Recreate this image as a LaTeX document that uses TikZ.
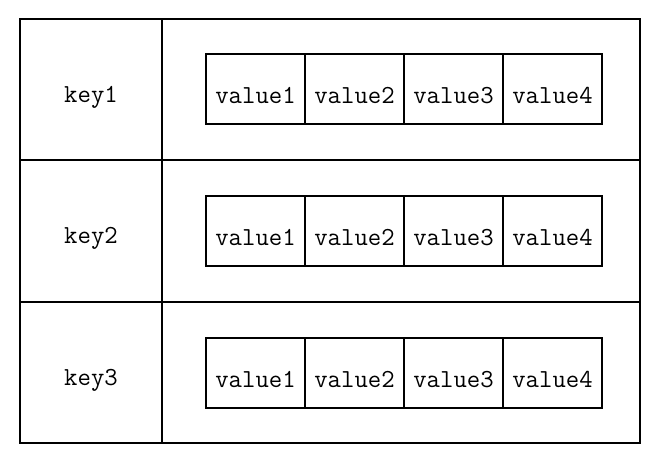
\documentclass[tikz,border=0pt]{standalone}
\begin{document}
\begin{tikzpicture}[x=1pt,y=-1pt,
  cell/.style={draw=black,line width=1.8pt,inner sep=0pt,minimum height=141.5pt,
    font=\fontsize{26}{26}\ttfamily,text height=25pt,text depth=0pt},
  keycell/.style={cell,minimum width=142pt},
  valcell/.style={cell,minimum width=478pt},
  valbox/.style={draw=black,line width=1.8pt,inner sep=0pt,minimum width=99pt,minimum height=70pt,
    font=\fontsize{26}{26}\ttfamily,text height=29pt,text depth=1pt}]
\useasboundingbox (0,0) rectangle (664,464);
\foreach \r/\y in {1/89.5,2/231,3/372.5}{
  \node[keycell] (k\r) at (91,\y) {key\r};
  \node[valcell] (c\r) at (401,\y) {};
}
\foreach \r/\y in {1/89,2/231,3/373}{
  \foreach \i/\x in {1/255.5,2/354.5,3/453.5,4/552.5}{
    \node[valbox] (v\r\i) at (\x,\y) {value\i};
  }
}
\end{tikzpicture}
\end{document}
